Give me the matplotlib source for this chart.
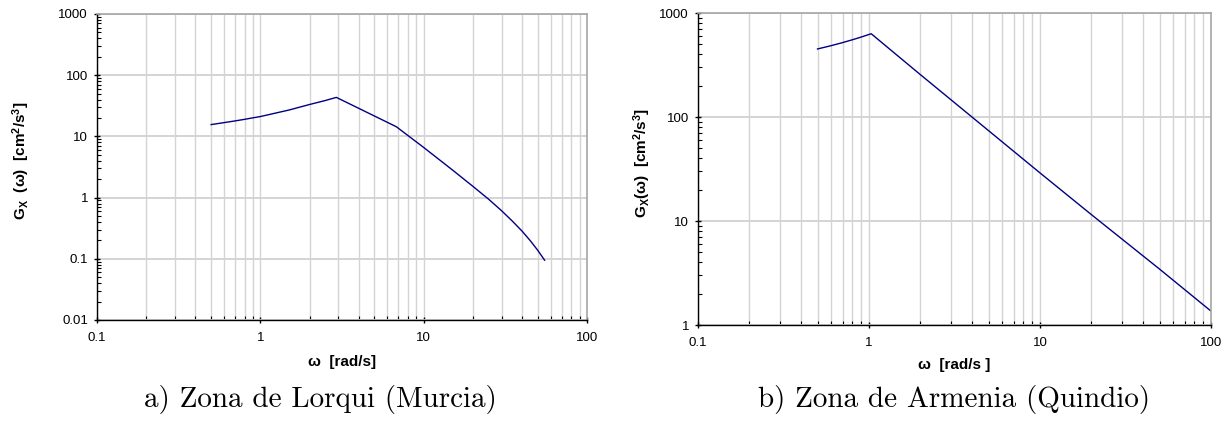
import matplotlib.pyplot as plt
from matplotlib.ticker import LogLocator, NullFormatter

plt.rcParams['font.family'] = ['Liberation Sans', 'DejaVu Sans']
plt.rcParams['mathtext.fontset'] = 'custom'
plt.rcParams['mathtext.rm'] = 'Liberation Sans'
plt.rcParams['mathtext.bf'] = 'Liberation Sans:bold'
plt.rcParams['mathtext.it'] = 'Liberation Sans:italic'

# a) Lorqui (Murcia)
omega_a = [0.5, 0.6, 0.7, 0.8, 0.9, 1.0, 1.5, 2.0, 2.5, 2.92,
           6.8, 10, 15, 20, 25, 30, 35, 40, 45, 50, 55]
G_a = [15.6, 16.8, 17.9, 19.0, 20.1, 21.1, 27.0, 33.2, 38.6, 43.4,
       14.4, 6.6, 2.83, 1.53, 0.94, 0.61, 0.41, 0.284, 0.197, 0.137, 0.095]

# b) Armenia (Quindio)
omega_b = [0.5, 0.6, 0.7, 0.8, 0.9, 1.03, 2, 4, 10, 20, 50, 100]
G_b = [451, 485, 519, 553, 587, 632, 255, 100, 29, 11.5, 3.45, 1.36]

xticks = [0.1, 1, 10, 100]
xtick_labels = ['0.1', '1', '10', '100']
yticks_a = [0.01, 0.1, 1, 10, 100, 1000]
ytick_labels_a = ['0.01', '0.1', '1', '10', '100', '1000']
yticks_b = [1, 10, 100, 1000]
ytick_labels_b = ['1', '10', '100', '1000']

fig = plt.figure(figsize=(12.25, 4.21), dpi=100)
ax1 = fig.add_axes([97 / 1225, 1 - 320 / 421, 490 / 1225, 306 / 421])
ax2 = fig.add_axes([698 / 1225, 1 - 325 / 421, 513 / 1225, 312 / 421])


def style(ax, yticks, ylabels, ylim, xlabel, ylabel):
    ax.set_xscale('log')
    ax.set_yscale('log')
    ax.set_xlim(0.1, 100)
    ax.set_ylim(*ylim)
    ax.set_xticks(xticks, xtick_labels)
    ax.set_yticks(yticks, ylabels)
    ax.xaxis.set_minor_locator(LogLocator(base=10, subs=range(2, 10), numticks=20))
    ax.yaxis.set_minor_locator(LogLocator(base=10, subs=range(2, 10), numticks=20))
    ax.xaxis.set_minor_formatter(NullFormatter())
    ax.yaxis.set_minor_formatter(NullFormatter())
    ax.grid(True, which='both', axis='x', color='#d4d4d4', lw=1.0)
    ax.grid(True, which='major', axis='y', color='#d4d4d4', lw=1.4)
    ax.set_axisbelow(True)
    for s in ('top', 'right'):
        ax.spines[s].set_color('#a6a6a6')
        ax.spines[s].set_linewidth(1.2)
    for s in ('left', 'bottom'):
        ax.spines[s].set_color('black')
        ax.spines[s].set_linewidth(1.0)
    ax.tick_params(which='major', direction='inout', length=5, width=1,
                   labelsize=9.5, pad=4, top=False, right=False)
    ax.tick_params(axis='x', which='major', pad=6)
    ax.tick_params(which='minor', direction='in', length=3, width=0.8,
                   top=False, right=False)
    ax.set_xlabel(xlabel, fontsize=11, fontweight='bold')
    ax.set_ylabel(ylabel, fontsize=11, fontweight='bold')


ax1.plot(omega_a, G_a, color='#000080', lw=1.0)
style(ax1, yticks_a, ytick_labels_a, (0.01, 1000), 'ω  [rad/s]',
      r'$\mathbf{G_X}$  (ω)  [cm$^\mathbf{2}$/s$^\mathbf{3}$]')
ax1.yaxis.set_label_coords(-0.132, 0.52)
ax1.xaxis.set_label_coords(0.5, -0.115)

ax2.plot(omega_b, G_b, color='#000080', lw=1.0)
style(ax2, yticks_b, ytick_labels_b, (1, 1000), 'ω  [rad/s ]',
      r'$\mathbf{G_X}$(ω)  [cm$^\mathbf{2}$/s$^\mathbf{3}$]')
ax2.yaxis.set_label_coords(-0.088, 0.52)
ax2.xaxis.set_label_coords(0.5, -0.105)

fig.text(320 / 1225, 1 - 400 / 421, 'a) Zona de Lorqui (Murcia)',
         family='cmr10', fontsize=21, ha='center', va='center')
fig.text(954 / 1225, 1 - 400 / 421, 'b) Zona de Armenia (Quindio)',
         family='cmr10', fontsize=21, ha='center', va='center')

fig.savefig('out.png', dpi=100)
